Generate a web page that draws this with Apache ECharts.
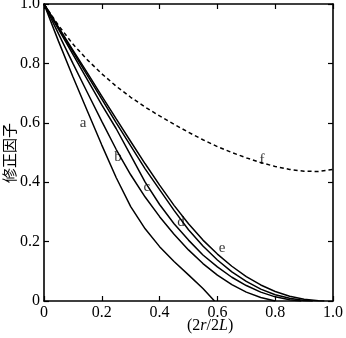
<!DOCTYPE html>
<html>
<head>
<meta charset="utf-8">
<script src="https://cdn.jsdelivr.net/npm/echarts@6/dist/echarts.min.js"></script>
<style>
  html, body { margin: 0; padding: 0; background: #fff; }
  #chart { width: 346px; height: 338px; }
</style>
</head>
<body>
<div id="chart"></div>
<script>
// Correction factor curves vs. normalised radius (2r/2L)
const curveA = [[0,1],[0.05,0.875],[0.1,0.755],[0.15,0.64],[0.2,0.525],[0.25,0.415],[0.3,0.318],[0.35,0.243],[0.4,0.183],[0.45,0.133],[0.5,0.088],[0.55,0.042],[0.59,0]];
const curveB = [[0,1],[0.05,0.9],[0.1,0.8],[0.15,0.702],[0.2,0.605],[0.25,0.51],[0.3,0.425],[0.35,0.35],[0.4,0.284],[0.45,0.225],[0.5,0.172],[0.55,0.126],[0.6,0.087],[0.65,0.055],[0.7,0.03],[0.75,0.012],[0.8,0]];
const curveC = [[0,1],[0.05,0.915],[0.1,0.83],[0.15,0.745],[0.2,0.66],[0.25,0.58],[0.3,0.49],[0.35,0.4],[0.4,0.325],[0.45,0.26],[0.5,0.205],[0.55,0.155],[0.6,0.115],[0.65,0.08],[0.7,0.052],[0.75,0.03],[0.8,0.014],[0.85,0.004],[0.89,0]];
const curveD = [[0,1],[0.05,0.92],[0.1,0.84],[0.15,0.76],[0.2,0.68],[0.25,0.6],[0.3,0.522],[0.35,0.445],[0.4,0.375],[0.45,0.305],[0.5,0.24],[0.55,0.185],[0.6,0.138],[0.65,0.098],[0.7,0.066],[0.75,0.04],[0.8,0.021],[0.85,0.009],[0.9,0.002],[0.93,0]];
const curveE = [[0,1],[0.05,0.922],[0.1,0.845],[0.15,0.768],[0.2,0.69],[0.25,0.613],[0.3,0.537],[0.35,0.462],[0.4,0.39],[0.45,0.322],[0.5,0.26],[0.55,0.205],[0.6,0.158],[0.65,0.117],[0.7,0.082],[0.75,0.054],[0.8,0.032],[0.85,0.016],[0.9,0.006],[0.95,0.001],[0.97,0]];
const curveF = [[0,1],[0.05,0.928],[0.1,0.865],[0.15,0.812],[0.2,0.765],[0.25,0.723],[0.3,0.686],[0.35,0.653],[0.4,0.623],[0.45,0.595],[0.5,0.568],[0.55,0.543],[0.6,0.52],[0.65,0.5],[0.7,0.482],[0.75,0.466],[0.8,0.453],[0.85,0.443],[0.9,0.437],[0.95,0.436],[1.0,0.443]];

const curveNames = ['a', 'b', 'c', 'd', 'e', 'f'];
const labelSpots = [[0.135,0.599],[0.256,0.485],[0.356,0.384],[0.474,0.266],[0.616,0.178],[0.754,0.475]];

const serif = 'Liberation Serif';
const fmt = v => (v === 0 ? '0' : v.toFixed(1));

const chart = echarts.init(document.getElementById('chart'));

function axisCommon(showLabels) {
  return {
    min: 0, max: 1, interval: 0.2,
    axisLine: { show: true, onZero: false, lineStyle: { color: '#000', width: 1.6 } },
    axisTick: { show: true, inside: true, length: 5, lineStyle: { color: '#000', width: 1.2 } },
    splitLine: { show: false },
    axisLabel: { show: showLabels, color: '#000', fontFamily: serif, fontSize: 16, margin: 4, formatter: fmt }
  };
}

const lineSeries = [curveA, curveB, curveC, curveD, curveE, curveF].map((d, i) => ({
  type: 'line',
  name: curveNames[i],
  data: d,
  showSymbol: false,
  smooth: false,
  lineStyle: { color: '#000', width: 1.5, type: i === 5 ? [4, 3] : 'solid' },
  silent: true,
  z: 3
}));

const labelSeries = {
  type: 'scatter',
  symbolSize: 0,
  data: labelSpots.map((p, i) => ({ value: p, name: curveNames[i] })),
  label: {
    show: true, position: 'inside', formatter: p => p.name,
    color: '#000', fontFamily: serif, fontSize: 15
  },
  silent: true,
  z: 5
};

chart.setOption({
  animation: false,
  backgroundColor: '#fff',
  grid: { left: 44, right: 13, top: 4, bottom: 37, containLabel: false, outerBoundsMode: 'none' },
  xAxis: [
    Object.assign(axisCommon(true), { type: 'value', position: 'bottom' }),
    Object.assign(axisCommon(false), { type: 'value', position: 'top' })
  ],
  yAxis: [
    Object.assign(axisCommon(true), { type: 'value', position: 'left' }),
    Object.assign(axisCommon(false), { type: 'value', position: 'right' })
  ],
  graphic: [{
    type: 'text',
    x: 9, y: 153,
    rotation: Math.PI / 2,
    style: {
      text: '修正因子',
      fill: '#000',
      font: '15px "Noto Sans CJK SC"',
      textAlign: 'center',
      textVerticalAlign: 'middle'
    }
  }, {
    type: 'text',
    left: 187, top: 318,
    style: {
      text: '(2{i|r}/2{i|L})',
      fill: '#000',
      font: '16px "Liberation Serif"',
      rich: { i: { fontStyle: 'italic', fontFamily: serif, fontSize: 16 } }
    }
  }],
  series: lineSeries.concat([labelSeries])
});
</script>
</body>
</html>
